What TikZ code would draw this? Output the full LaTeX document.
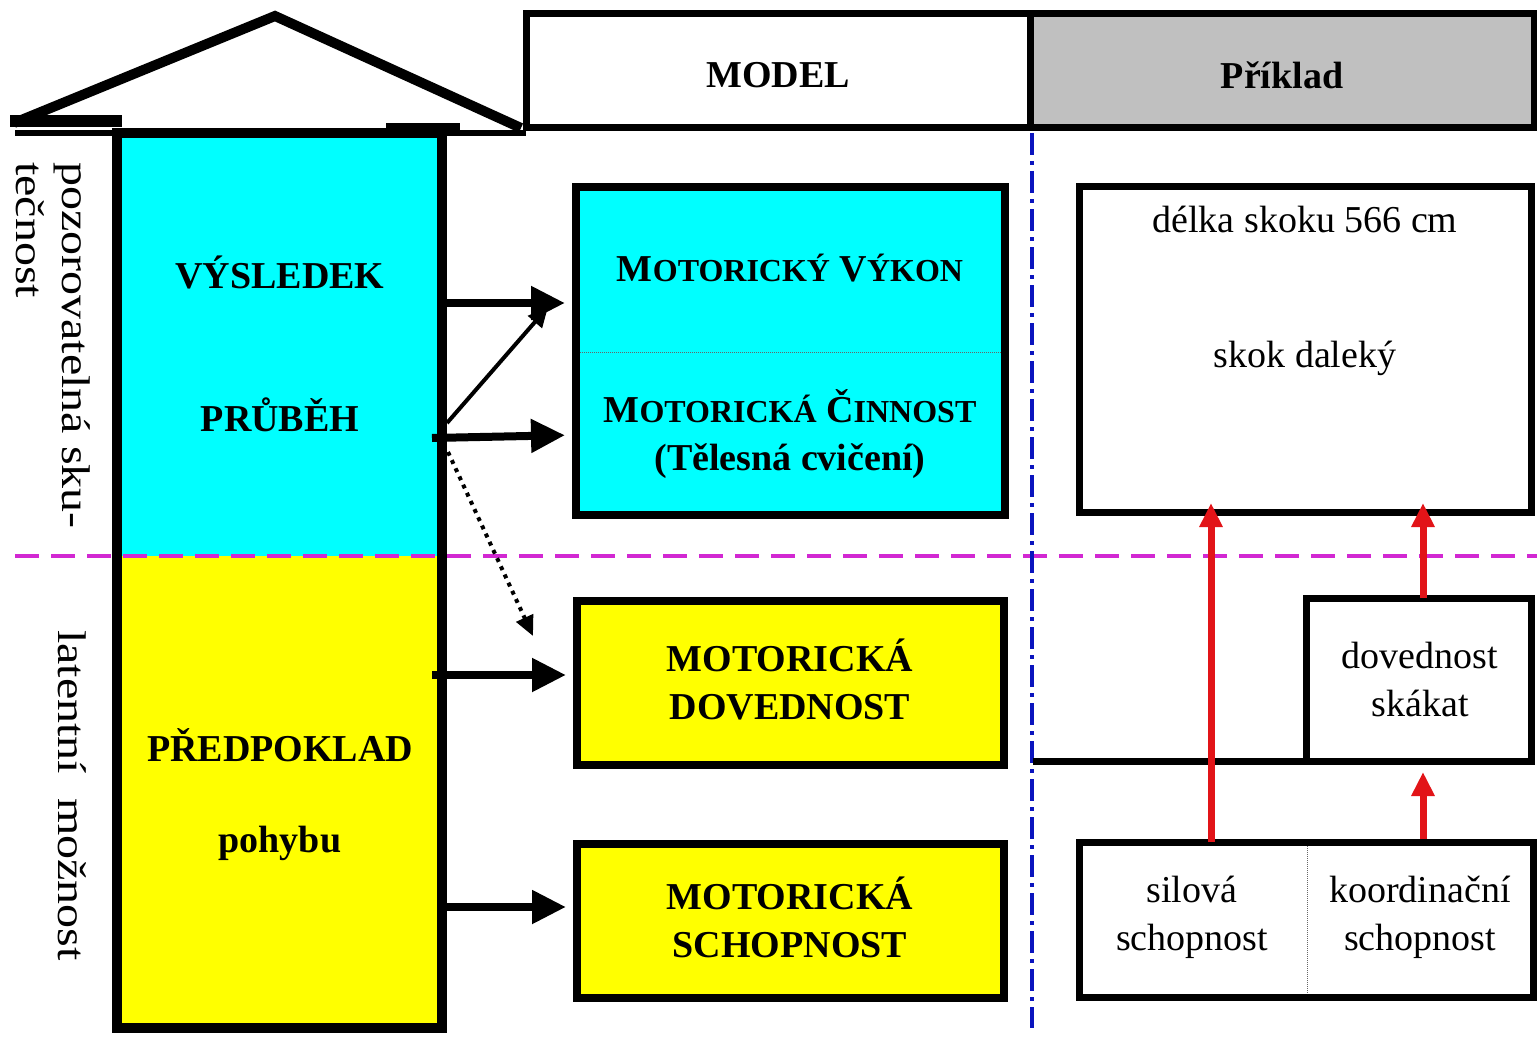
\documentclass[tikz,border=0pt]{standalone}
\usepackage{fontspec}
\setmainfont{Liberation Serif}
\usetikzlibrary{arrows.meta,calc}
\newcommand\fs[1]{\fontsize{#1}{48}\selectfont}
\newcommand\smc[2]{#1{\fs{32}#2}}
\definecolor{cyanfill}{RGB}{0,255,255}
\definecolor{yelfill}{RGB}{255,255,0}
\definecolor{hdrgray}{RGB}{192,192,192}
\definecolor{myred}{RGB}{226,20,24}
\definecolor{mymag}{RGB}{210,40,210}
\definecolor{myblue}{RGB}{10,20,190}
\tikzset{
  bt/.style={font=\fs{38}\bfseries, inner sep=0pt, align=center},
  rt/.style={font=\fs{38}, inner sep=0pt, align=center},
  frame/.style={draw, line width=8pt, inner sep=0pt, outer sep=0pt},
  blk/.style={line width=8pt, -{Triangle[length=34pt,width=32pt]}},
  blkthin/.style={line width=4pt, -{Triangle[length=20pt,width=18pt]}},
  redarr/.style={draw=myred, line width=7pt, -{Triangle[length=24pt,width=22pt]}},
  rot/.style={rotate=-90, anchor=west, inner sep=0pt, font=\fs{40}},
}
\begin{document}
\begin{tikzpicture}[x=1pt,y=-1pt]
\useasboundingbox[fill=white] (0,0) rectangle (1537,1038);
% column
\fill[cyanfill] (117,133) rectangle (442,556);
\fill[yelfill] (117,556) rectangle (442,1028);
\draw[line width=10pt] (117,133) rectangle (442,1028);
% roof
\draw[line width=10pt, line join=miter] (14,123) -- (275,16) -- (521,128);
\fill (10,115) rectangle (122,127);
\fill (386,123) rectangle (460,131);
\draw[line width=6pt] (15,133) -- (526,133);
% header
\node[frame, line width=7pt, minimum width=504pt, minimum height=114pt] (model) at (778,71) {};
\node[frame, line width=7pt, fill=hdrgray, minimum width=504pt, minimum height=114pt] (priklad) at (1282,71) {};
\node[bt] (modelt) at (778,75) {MODEL};
\node[bt] (prikladt) at (1282,75) {Příklad};
% separators
\draw[mymag, line width=4pt, dash pattern=on 24pt off 12pt] (15,556) -- (1537,556);
\draw[myblue, line width=4pt, dash pattern=on 22pt off 6pt on 4pt off 6pt] (1032,133) -- (1032,1028);
% column texts
\node[bt] (vys) at (280,272) {VÝSLEDEK};
\node[bt] (prub) at (280,415) {PRŮBĚH};
\node[bt] (pred) at (280,745) {PŘEDPOKLAD};
\node[bt] (poh) at (280,843) {pohybu};
% rotated texts
\node[rot] (r1) at (72,162) {\scalebox{1.2}[1]{pozorovatelná sku-}};
\node[rot] (r2) at (30,162) {\scalebox{1.2}[1]{tečnost}};
\node[rot] (r3) at (72,630) {\scalebox{1.2}[1]{latentní\ \ možnost}};
% model boxes
\node[frame, fill=cyanfill, minimum width=429pt, minimum height=328pt] (mbox) at (790.5,351) {};
\draw[densely dotted, line width=1pt, black!60] (580,352) -- (1001,352);
\node[bt] (vykon) at (790,268) {\smc{M}{OTORICKÝ} \smc{V}{ÝKON}};
\node[bt] (cinn) at (790,434) {\smc{M}{OTORICKÁ} \smc{Č}{INNOST}\\(Tělesná cvičení)};
\node[frame, fill=yelfill, minimum width=427pt, minimum height=164pt] (ybox1) at (790.5,683) {};
\node[bt] (dovt) at (790,679) {MOTORICKÁ\\DOVEDNOST};
\node[frame, fill=yelfill, minimum width=427pt, minimum height=154pt] (ybox2) at (790.5,921) {};
\node[bt] (scht) at (790,917) {MOTORICKÁ\\SCHOPNOST};
% example boxes
\node[frame, line width=7pt, minimum width=452pt, minimum height=326pt] (delka) at (1305,349) {};
\node[rt] (delkat) at (1305,219) {délka skoku 566 cm};
\node[rt] (skok) at (1305,358) {skok daleký};
\node[frame, line width=7pt, minimum width=225pt, minimum height=163pt] (dov) at (1418.5,679.5) {};
\node[rt] (dovx) at (1420,679) {dovednost\\skákat};
\coordinate (blueL) at (1033,761);
\draw[line width=7pt] (blueL) -- (dov.south west);
\node[frame, line width=7pt, minimum width=454pt, minimum height=155pt] (bot) at (1306,919.5) {};
\draw[densely dotted, line width=1pt, black!60] (1307,846) -- (1307,993);
\node[rt] (silt) at (1192,917) {silová\\schopnost};
\node[rt] (koort) at (1420,917) {koordinační\\schopnost};
% red arrows
\coordinate (xa) at (1211,0);
\coordinate (xb) at (1423,0);
\draw[redarr, shorten >=-9pt] (bot.north -| xa) -- (delka.south -| xa);
\draw[redarr, shorten >=-9pt] (dov.north -| xb) -- (delka.south -| xb);
\draw[redarr] ($(bot.north -| xb)+(0,-3)$) -- ($(dov.south -| xb)+(0,11)$);
% black arrows
\coordinate (a1) at (440,303);
\coordinate (a2) at (447,423);
\coordinate (a3) at (432,438);
\coordinate (a4) at (448,452);
\coordinate (a5) at (432,675);
\coordinate (a6) at (440,907);
\coordinate (t2) at (548,307);
\coordinate (t4) at (533,636);
\draw[blk, shorten >=11pt] (a1) -- (mbox.west |- a1);
\draw[blkthin] (a2) -- (t2);
\draw[blk, shorten >=11pt] (a3) -- (mbox.west |- 0,435);
\draw[blkthin, dash pattern=on 4pt off 5pt] (a4) -- (t4);
\draw[blk, shorten >=11pt] (a5) -- (ybox1.west |- a5);
\draw[blk, shorten >=11pt] (a6) -- (ybox2.west |- a6);
\end{tikzpicture}
\end{document}
